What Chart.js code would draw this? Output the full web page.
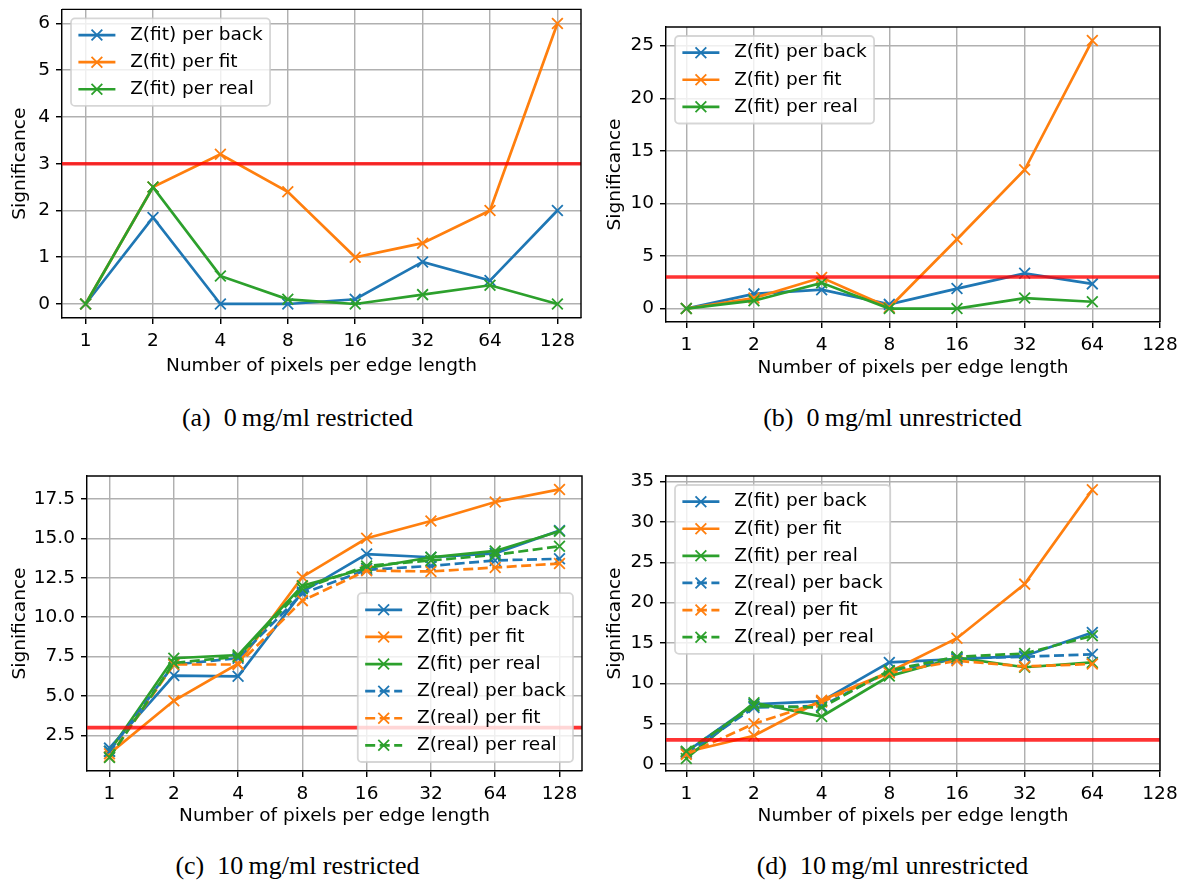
<!DOCTYPE html>
<html>
<head>
<meta charset="utf-8">
<script src="https://cdn.jsdelivr.net/npm/chart.js@4.4.1/dist/chart.umd.min.js"></script>
<style>
  body { margin: 0; background: #fff; width: 1190px; height: 883px; position: relative; overflow: hidden; }
  .panel { position: absolute; }
  .caption { position: absolute; width: 595px; text-align: center; font-family: "Liberation Serif", "Times New Roman", serif; font-size: 26px; line-height: 30px; color: #000; }
</style>
</head>
<body>
<div class="panel" style="left:0px;top:0px"><canvas id="chartA" width="595" height="385"></canvas></div>
<div class="panel" style="left:595px;top:0px"><canvas id="chartB" width="595" height="385"></canvas></div>
<div class="panel" style="left:0px;top:460px"><canvas id="chartC" width="595" height="380"></canvas></div>
<div class="panel" style="left:595px;top:460px"><canvas id="chartD" width="595" height="380"></canvas></div>
<div class="caption" style="left:0px;top:403px">(a)&ensp;0&thinsp;mg/ml restricted</div>
<div class="caption" style="left:595px;top:403px">(b)&ensp;0&thinsp;mg/ml unrestricted</div>
<div class="caption" style="left:0px;top:851px">(c)&ensp;10&thinsp;mg/ml restricted</div>
<div class="caption" style="left:595px;top:851px">(d)&ensp;10&thinsp;mg/ml unrestricted</div>
<script>
// pixels per edge length (x axis, log2 spaced)
var edgePixels = [1, 2, 4, 8, 16, 32, 64, 128];
var sigLevel = 3;

// 0 mg/ml, restricted
var aFitBack = [0, 1.85, 0, 0, 0.1, 0.9, 0.5, 2.0];
var aFitFit = [0, 2.5, 3.2, 2.4, 1.0, 1.3, 2.0, 6.0];
var aFitReal = [0, 2.5, 0.6, 0.1, 0, 0.2, 0.4, 0];

// 0 mg/ml, unrestricted (up to 64)
var bFitBack = [0, 1.4, 1.8, 0.4, 1.9, 3.35, 2.35];
var bFitFit = [0, 1.0, 2.95, 0.1, 6.6, 13.2, 25.5];
var bFitReal = [0, 0.75, 2.45, 0, 0, 1.0, 0.65];

// 10 mg/ml, restricted
var cFitBack = [1.7, 6.3, 6.25, 11.6, 14.0, 13.8, 14.05, 15.5];
var cFitFit = [1.35, 4.7, 7.05, 12.55, 15.0, 16.1, 17.3, 18.1];
var cFitReal = [1.5, 7.4, 7.6, 12.0, 13.1, 13.8, 14.2, 15.45];
var cRealBack = [1.5, 7.0, 7.4, 11.5, 13.0, 13.25, 13.6, 13.7];
var cRealFit = [1.15, 7.0, 7.0, 11.05, 12.95, 12.9, 13.15, 13.4];
var cRealReal = [1.1, 7.1, 7.5, 11.8, 13.25, 13.6, 13.95, 14.5];

// 10 mg/ml, unrestricted (up to 64)
var dFitBack = [1.5, 7.4, 7.8, 12.6, 13.0, 13.4, 16.3];
var dFitFit = [1.5, 3.5, 7.9, 11.4, 15.6, 22.3, 34.0];
var dFitReal = [0.7, 7.6, 5.9, 10.9, 13.2, 12.0, 12.6];
var dRealBack = [1.3, 7.0, 7.2, 11.5, 13.1, 13.3, 13.6];
var dRealFit = [1.2, 5.0, 7.7, 11.3, 12.8, 12.1, 12.4];
var dRealReal = [1.6, 7.2, 7.0, 11.6, 13.3, 13.7, 15.9];

// y tick values
var yTicksA = [0, 1, 2, 3, 4, 5, 6];
var yTicksB = [0, 5, 10, 15, 20, 25];
var yTicksC = [2.5, 5, 7.5, 10, 12.5, 15, 17.5];
var yTicksD = [0, 5, 10, 15, 20, 25, 30, 35];

var BLUE = '#1f77b4', ORANGE = '#ff7f0e', GREEN = '#2ca02c';
var FONT_SIZE = 18.5;

Chart.defaults.font.family = 'DejaVu Sans';
Chart.defaults.font.size = FONT_SIZE;
Chart.defaults.color = '#000';

function points(vals) {
  return vals.map(function(v, i) { return { x: Math.log2(edgePixels[i]), y: v }; });
}

function series(label, vals, color, dashed, i) {
  return {
    label: label,
    data: points(vals),
    borderColor: color,
    backgroundColor: color,
    borderWidth: 2.7,
    borderDash: dashed ? [10, 4.5] : [],
    pointStyle: 'crossRot',
    pointRadius: 7.6,
    pointBorderWidth: 1.8,
    pointBorderColor: color,
    fill: false,
    tension: 0,
    order: -i
  };
}

// threshold line, matplotlib style legend box and top/right spines
var decorPlugin = {
  id: 'decor',
  afterDatasetsDraw: function(chart) {
    var ctx = chart.ctx, a = chart.chartArea;
    var y = chart.scales.y.getPixelForValue(sigLevel);
    ctx.save();
    ctx.strokeStyle = 'rgba(255,0,0,0.8)';
    ctx.lineWidth = 3.6;
    ctx.beginPath();
    ctx.moveTo(a.left, y);
    ctx.lineTo(a.right, y);
    ctx.stroke();
    ctx.restore();
  },
  afterDraw: function(chart, args, opts) {
    var ctx = chart.ctx, a = chart.chartArea, sets = chart.data.datasets;
    var pad = 7.4, handle = 37, gap = 14.8, rowH = 18.5, space = 8.6;
    ctx.save();
    ctx.strokeStyle = '#000';
    ctx.lineWidth = 1.44;
    ctx.beginPath();
    ctx.moveTo(a.left, a.top);
    ctx.lineTo(a.right, a.top);
    ctx.lineTo(a.right, a.bottom);
    ctx.stroke();

    ctx.font = FONT_SIZE + 'px "DejaVu Sans"';
    var tw = 0;
    sets.forEach(function(d) { tw = Math.max(tw, ctx.measureText(d.label).width); });
    var w = pad * 2 + handle + gap + tw;
    var h = pad * 2 + sets.length * rowH + (sets.length - 1) * space;
    var x0 = opts.corner === 'lower right' ? a.right - 9 - w : a.left + 9;
    var y0 = opts.corner === 'lower right' ? a.bottom - 9 - h : a.top + 9;
    ctx.beginPath();
    ctx.roundRect(x0, y0, w, h, 4);
    ctx.fillStyle = 'rgba(255,255,255,0.8)';
    ctx.fill();
    ctx.strokeStyle = 'rgba(204,204,204,0.8)';
    ctx.lineWidth = 1.8;
    ctx.stroke();

    sets.forEach(function(d, i) {
      var cy = y0 + pad + rowH / 2 + i * (rowH + space);
      var lx = x0 + pad;
      ctx.strokeStyle = d.borderColor;
      ctx.lineWidth = d.borderWidth;
      ctx.setLineDash(d.borderDash);
      ctx.beginPath();
      ctx.moveTo(lx, cy);
      ctx.lineTo(lx + handle, cy);
      ctx.stroke();
      ctx.setLineDash([]);
      var r = d.pointRadius * Math.SQRT1_2, mx = lx + handle / 2;
      ctx.lineWidth = d.pointBorderWidth;
      ctx.beginPath();
      ctx.moveTo(mx - r, cy - r); ctx.lineTo(mx + r, cy + r);
      ctx.moveTo(mx - r, cy + r); ctx.lineTo(mx + r, cy - r);
      ctx.stroke();
      ctx.fillStyle = '#000';
      ctx.textBaseline = 'middle';
      ctx.fillText(d.label, lx + handle + gap, cy);
    });
    ctx.restore();
  }
};

function makeChart(id, datasets, o) {
  var ctx = document.getElementById(id).getContext('2d');
  return new Chart(ctx, {
    type: 'line',
    data: { datasets: datasets },
    options: {
      responsive: false,
      animation: false,
      events: [],
      devicePixelRatio: 1,
      layout: { padding: { left: 0, right: o.padRight, top: o.padTop, bottom: o.padBottom } },
      plugins: {
        legend: { display: false },
        tooltip: { enabled: false },
        decor: { corner: o.corner }
      },
      scales: {
        x: {
          type: 'linear',
          min: o.xMin, max: o.xMax,
          afterBuildTicks: function(s) { s.ticks = edgePixels.map(function(p) { return { value: Math.log2(p) }; }); },
          afterFit: function(s) { s.height = o.xHeight; s.paddingLeft = 0; s.paddingRight = 0; },
          ticks: { autoSkip: false, maxRotation: 0, padding: 6,
                   callback: function(v, i) { return String(edgePixels[i]); } },
          grid: { color: '#b0b0b0', lineWidth: 1.44, tickLength: 6, tickColor: '#000', tickWidth: 1.44 },
          border: { color: '#000', width: 1.44 },
          title: { display: true, text: 'Number of pixels per edge length', padding: { top: 0, bottom: 4 } }
        },
        y: {
          type: 'linear',
          min: o.yMin, max: o.yMax,
          afterBuildTicks: function(s) { s.ticks = o.yTicks.map(function(v) { return { value: v }; }); },
          afterFit: function(s) { s.width = o.yWidth; s.paddingTop = 0; s.paddingBottom = 0; },
          ticks: { padding: 6, callback: function(v) { return o.decimals ? v.toFixed(1) : String(v); } },
          grid: { color: '#b0b0b0', lineWidth: 1.44, tickLength: 6, tickColor: '#000', tickWidth: 1.44 },
          border: { color: '#000', width: 1.44 },
          title: { display: true, text: 'Significance', padding: { top: 9, bottom: 0 } }
        }
      }
    },
    plugins: [decorPlugin]
  });
}

makeChart('chartA', [
  series('Z(fit) per back', aFitBack, BLUE, false, 0),
  series('Z(fit) per fit', aFitFit, ORANGE, false, 1),
  series('Z(fit) per real', aFitReal, GREEN, false, 2)
], { padRight: 14, padTop: 9, padBottom: 4, xHeight: 63, yWidth: 62, xMin: -0.35, xMax: 7.35,
     yMin: -0.3, yMax: 6.3, yTicks: yTicksA, corner: 'upper left' });

makeChart('chartB', [
  series('Z(fit) per back', bFitBack, BLUE, false, 0),
  series('Z(fit) per fit', bFitFit, ORANGE, false, 1),
  series('Z(fit) per real', bFitReal, GREEN, false, 2)
], { padRight: 30, padTop: 27, padBottom: 2, xHeight: 61, yWidth: 71, xMin: -0.3, xMax: 7,
     yMin: -1.275, yMax: 26.775, yTicks: yTicksB, corner: 'upper left' });

makeChart('chartC', [
  series('Z(fit) per back', cFitBack, BLUE, false, 0),
  series('Z(fit) per fit', cFitFit, ORANGE, false, 1),
  series('Z(fit) per real', cFitReal, GREEN, false, 2),
  series('Z(real) per back', cRealBack, BLUE, true, 3),
  series('Z(real) per fit', cRealFit, ORANGE, true, 4),
  series('Z(real) per real', cRealReal, GREEN, true, 5)
], { padRight: 13, padTop: 16, padBottom: 9, xHeight: 60, yWidth: 87, xMin: -0.35, xMax: 7.35,
     yMin: 0.25, yMax: 18.95, yTicks: yTicksC, decimals: true, corner: 'lower right' });

makeChart('chartD', [
  series('Z(fit) per back', dFitBack, BLUE, false, 0),
  series('Z(fit) per fit', dFitFit, ORANGE, false, 1),
  series('Z(fit) per real', dFitReal, GREEN, false, 2),
  series('Z(real) per back', dRealBack, BLUE, true, 3),
  series('Z(real) per fit', dRealFit, ORANGE, true, 4),
  series('Z(real) per real', dRealReal, GREEN, true, 5)
], { padRight: 30, padTop: 16, padBottom: 9, xHeight: 60, yWidth: 71, xMin: -0.3, xMax: 7,
     yMin: -0.86, yMax: 35.7, yTicks: yTicksD, corner: 'upper left' });
</script>
</body>
</html>
